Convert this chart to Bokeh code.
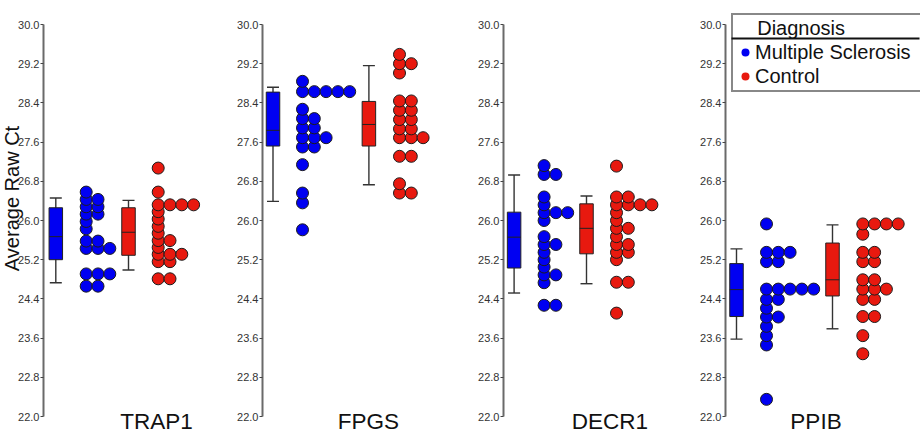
import numpy as np
from bokeh.plotting import figure
from bokeh.models import (Range1d, FixedTicker, NumeralTickFormatter, ColumnDataSource,
                          Legend, LegendItem)
from bokeh.layouts import row
from bokeh.embed import file_html
from bokeh.resources import INLINE
from bokeh.core.properties import value

# ---------------- data ----------------
genes = ["TRAP1", "FPGS", "DECR1", "PPIB"]
groups = ["Multiple Sclerosis", "Control"]
group_colors = ["#0000F2", "#E8190F"]
legend_title = "Diagnosis"
y_title = "Average Raw Ct"
y_ticks = [22.0, 22.8, 23.6, 24.4, 25.2, 26.0, 26.8, 27.6, 28.4, 29.2, 30.0]

trap1_ms = [26.58, 26.43, 26.43, 26.28, 26.28, 26.13, 26.13, 25.98, 25.83,
            25.58, 25.58, 25.43, 25.43, 25.43, 24.91, 24.91, 24.91, 24.66, 24.66]
trap1_ctl = [27.07, 26.58, 26.32, 26.32, 26.32, 26.32, 26.18, 26.03, 25.88, 25.74,
             25.59, 25.59, 25.45, 25.31, 25.31, 25.31, 25.16, 25.16, 24.81, 24.81]
fpgs_ms = [28.84, 28.63, 28.63, 28.63, 28.63, 28.63, 28.27, 28.08, 28.08, 27.89,
           27.89, 27.69, 27.69, 27.69, 27.50, 27.50, 27.14, 26.56, 26.36, 25.81]
fpgs_ctl = [29.39, 29.20, 29.20, 29.01, 28.44, 28.44, 28.25, 28.25, 28.06, 28.06,
            27.87, 27.87, 27.69, 27.69, 27.69, 27.31, 27.31, 26.75, 26.56, 26.56]
decr1_ms = [27.12, 26.94, 26.94, 26.48, 26.32, 26.16, 26.16, 26.16, 26.00, 25.67,
            25.51, 25.51, 25.35, 25.20, 25.05, 24.89, 24.89, 24.73, 24.27, 24.27]
decr1_ctl = [27.11, 26.48, 26.48, 26.32, 26.32, 26.32, 26.32, 26.16, 26.00, 25.84,
             25.84, 25.67, 25.51, 25.51, 25.35, 25.35, 25.20, 24.74, 24.74, 24.11]
ppib_ms = [25.93, 25.35, 25.35, 25.35, 25.16, 25.16, 24.60, 24.60, 24.60, 24.60,
           24.60, 24.39, 24.39, 24.21, 24.03, 24.03, 23.84, 23.65, 23.46, 22.35]
ppib_ctl = [25.93, 25.93, 25.93, 25.93, 25.72, 25.35, 25.35, 25.16, 25.16, 24.79,
            24.79, 24.60, 24.60, 24.60, 24.39, 24.39, 24.04, 24.04, 23.65, 23.28]

# box-plot statistics (per gene, in gene order)
ms_low = [24.73, 26.39, 24.52, 23.58]
ms_q1 = [25.20, 27.52, 25.03, 24.04]
ms_med = [25.67, 27.84, 25.66, 24.59]
ms_q3 = [26.26, 28.62, 26.17, 25.12]
ms_high = [26.46, 28.72, 26.93, 25.42]
ctl_low = [24.99, 26.73, 24.71, 23.79]
ctl_q1 = [25.29, 27.52, 25.32, 24.46]
ctl_med = [25.76, 27.96, 25.84, 24.79]
ctl_q3 = [26.26, 28.43, 26.34, 25.54]
ctl_high = [26.41, 29.16, 26.50, 25.91]

ms_values = [trap1_ms, fpgs_ms, decr1_ms, ppib_ms]
ctl_values = [trap1_ctl, fpgs_ctl, decr1_ctl, ppib_ctl]

# ---------------- layout (pixels) ----------------
H = 434
PX_PER_UNIT = 49.0
TOP_PAD, BOTTOM_PAD = 24, 18
fig_widths = [222, 240, 228, 230]
axis_left = [43, 40, 41, 35]
box_pos = [(12.3, 85.0), (10.5, 106.4), (10.6, 83.0), (11.0, 107.0)]
dot_pos = [(42.7, 114.7), (40.0, 137.0), (40.6, 113.0), (41.0, 137.3)]
gene_label_x = [113, 106, 106.5, 90.5]
COL_STEP = 11.8
BOX_W = 13.5
CAP_W = 12.0
DOT_SIZE = 12
FONT = "Liberation Sans"

y0 = y_ticks[0] - BOTTOM_PAD / PX_PER_UNIT
y1 = y_ticks[-1] + TOP_PAD / PX_PER_UNIT


def dot_columns(vals, base):
    order = sorted(vals)
    seen = {}
    xs, ys = [], []
    for v in order:
        c = seen.get(v, 0)
        seen[v] = c + 1
        xs.append(base + c * COL_STEP)
        ys.append(v)
    return xs, ys


stats = [
    (ms_low, ms_q1, ms_med, ms_q3, ms_high),
    (ctl_low, ctl_q1, ctl_med, ctl_q3, ctl_high),
]
values = [ms_values, ctl_values]

figs = []
for i, gene in enumerate(genes):
    w = fig_widths[i]
    first = (i == 0)
    # first panel: frame starts at canvas edge, axis drawn at a fixed location
    off = axis_left[i] if first else 0
    border = 0 if first else axis_left[i]
    fw = w - border
    p = figure(width=w, height=H, output_backend="svg", toolbar_location=None,
               x_range=Range1d(-off, fw - off), y_range=Range1d(y0, y1),
               x_axis_type=None, min_border_left=border, min_border_right=0,
               min_border_top=0, min_border_bottom=0, outline_line_color=None,
               background_fill_color="white", border_fill_color="white")
    p.ygrid.grid_line_color = None
    ax = p.yaxis[0]
    if first:
        ax.fixed_location = 0
    ax.bounds = (y_ticks[0], y_ticks[-1])
    ax.ticker = FixedTicker(ticks=y_ticks)
    ax.formatter = NumeralTickFormatter(format="0.0")
    ax.axis_line_color = "#6a6a6a"
    ax.axis_line_width = 2
    ax.major_tick_line_color = "#444444"
    ax.major_tick_out = 3
    ax.major_tick_in = 0
    ax.minor_tick_line_color = None
    ax.major_label_standoff = 1
    ax.major_label_text_font = FONT
    ax.major_label_text_font_size = "11px"
    ax.major_label_text_color = "#333333"

    if first:
        # shared y-axis title, rotated, left of the tick labels
        p.text(x=[11 - off], y=[y_ticks[-1] - (198 - TOP_PAD) / PX_PER_UNIT], text=[y_title],
               angle=np.pi / 2, text_align="center", text_baseline="alphabetic",
               text_font=value(FONT), text_font_size="20px", text_color="#111111")

    dot_renderers = []
    for g in range(2):
        low, q1, med, q3, high = [s[i] for s in stats[g]]
        bx = box_pos[i][g]
        # whisker line and caps
        p.segment(x0=[bx], x1=[bx], y0=[low], y1=[high], line_color="#333333", line_width=1.4)
        p.segment(x0=[bx - CAP_W / 2, bx - CAP_W / 2], x1=[bx + CAP_W / 2, bx + CAP_W / 2],
                  y0=[low, high], y1=[low, high], line_color="#333333", line_width=1.4)
        # box
        p.quad(left=[bx - BOX_W / 2], right=[bx + BOX_W / 2], bottom=[q1], top=[q3],
               fill_color=group_colors[g], line_color="#222222", line_width=1)
        p.segment(x0=[bx - BOX_W / 2], x1=[bx + BOX_W / 2], y0=[med], y1=[med],
                  line_color="#222222", line_width=1)
        # dots
        xs, ys = dot_columns(values[g][i], dot_pos[i][g])
        src = ColumnDataSource(dict(x=xs, y=ys))
        r = p.scatter("x", "y", source=src, size=DOT_SIZE, marker="circle",
                      fill_color=group_colors[g], line_color="#1c1c1c", line_width=1)
        dot_renderers.append((r, src))

    # gene name
    p.text(x=[gene_label_x[i]], y=[y_ticks[0]], text=[gene], text_align="center",
           text_baseline="alphabetic", y_offset=4.5, text_font=value(FONT),
           text_font_size="22.5px", text_color="#111111")

    if i == 3:
        items = []
        for g in range(2):
            src = dot_renderers[g][1]
            lr = p.scatter("x", "y", source=src, size=9, marker="circle",
                           fill_color=group_colors[g], line_color=None, visible=False)
            items.append(LegendItem(label=groups[g], renderers=[lr]))
        leg = Legend(items=items, location=(6, H - 92),
                     title="\u00a0\u00a0\u00a0\u00a0" + legend_title,
                     title_text_font=FONT, title_text_font_size="20px",
                     title_text_font_style="normal", title_text_color="#111111",
                     title_standoff=0,
                     label_text_font=FONT, label_text_font_size="20px",
                     label_text_color="#111111",
                     border_line_color="#111111", border_line_width=2,
                     background_fill_alpha=0,
                     padding=2, spacing=0, margin=0, glyph_width=20, glyph_height=24,
                     label_height=24, label_standoff=0, label_width=164)
        p.add_layout(leg)
        ydiv = y1 - 38 / PX_PER_UNIT
        p.segment(x0=[6], x1=[fw - 1], y0=[ydiv], y1=[ydiv], line_color="#111111",
                  line_width=2)

    figs.append(p)

layout = row(*figs, spacing=0)
open("out.html", "w").write(file_html(layout, INLINE))
